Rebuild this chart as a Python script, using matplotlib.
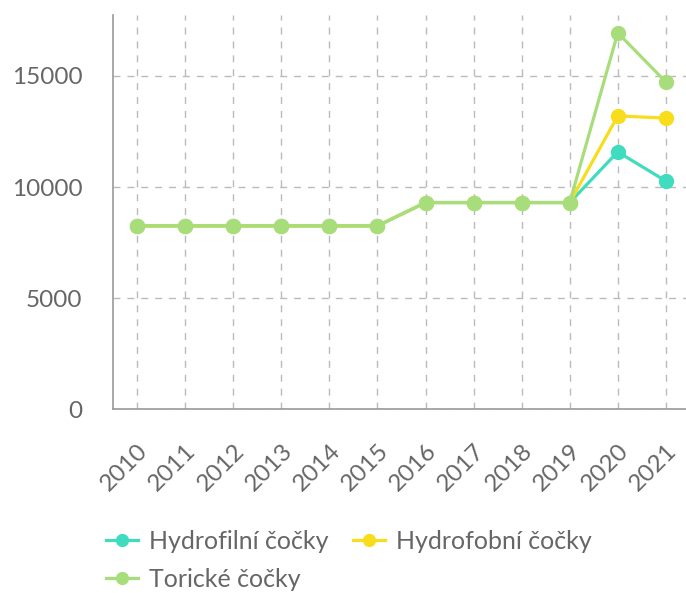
import matplotlib.pyplot as plt

years = [str(y) for y in range(2010, 2022)]
hydrofilni = [8250, 8250, 8250, 8250, 8250, 8250, 9300, 9300, 9300, 9300, 11580, 10270]
hydrofobni = [8250, 8250, 8250, 8250, 8250, 8250, 9300, 9300, 9300, 9300, 13200, 13100]
toricke = [8250, 8250, 8250, 8250, 8250, 8250, 9300, 9300, 9300, 9300, 16940, 14730]

series = [
    ("Hydrofilní čočky", hydrofilni, "#3fdcbf"),
    ("Hydrofobní čočky", hydrofobni, "#f7dd1c"),
    ("Torické čočky", toricke, "#a7de7b"),
]

plt.rcParams["font.family"] = ["Lato", "DejaVu Sans"]

fig = plt.figure(figsize=(6.86, 5.93), dpi=100)
ax = fig.add_axes([0.165, 0.31, 0.835, 0.665])

x = list(range(len(years)))
lines = []
for name, vals, col in series:
    ln, = ax.plot(x, vals, color=col, lw=2.3, marker="o", ms=10, label=name)
    lines.append(ln)

ax.set_xlim(-0.5, 11.42)
ax.set_ylim(0, 17750)
ax.set_yticks([0, 5000, 10000, 15000])
ax.set_xticks(x)
ax.set_xticklabels(years, rotation=45, ha="right", rotation_mode="anchor")
ax.tick_params(axis="both", length=0, labelsize=17.5, colors="#666666")
ax.tick_params(axis="y", pad=22)
ax.tick_params(axis="x", pad=22)
ax.grid(True, ls=(0, (5, 5)), color="#bbbbbb", lw=1)
ax.set_axisbelow(True)
for s in ["top", "right"]:
    ax.spines[s].set_visible(False)
for s in ["left", "bottom"]:
    ax.spines[s].set_color("#999999")
    ax.spines[s].set_linewidth(1.2)

# row-major order: two in first row, one in second
order = [lines[0], lines[2], lines[1]]
fig.legend(order, [l.get_label() for l in order], loc="upper left",
           bbox_to_anchor=(0.155, 0.107), ncol=2, frameon=False,
           fontsize=18, labelcolor="#666666", handlelength=1.25, handletextpad=0.45,
           columnspacing=1.0, labelspacing=0.6, borderaxespad=0, borderpad=0,
           markerscale=0.85)

fig.savefig("out.png", dpi=100)
